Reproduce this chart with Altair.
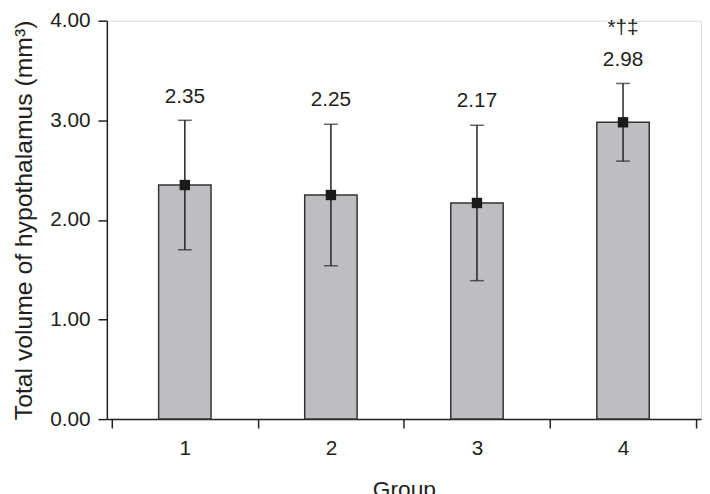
import altair as alt
import pandas as pd

groups = [1, 2, 3, 4]
means = [2.35, 2.25, 2.17, 2.98]
sds = [0.65, 0.71, 0.78, 0.39]
marks = ["", "", "", "*†‡"]
y_ticks = [0, 1, 2, 3, 4]
x_ticks = [0.5, 1, 1.5, 2, 2.5, 3, 3.5, 4, 4.5]

df = pd.DataFrame({"group": groups, "mean": means, "sd": sds, "mark": marks})
df["lo"] = df["mean"] - df["sd"]
df["hi"] = df["mean"] + df["sd"]
df["label"] = df["mean"].map(lambda v: f"{v:.2f}")

FONT = "Liberation Sans"
INK = "#231f20"

xscale = alt.Scale(domain=[0.5, 4.5], nice=False, zero=False)
x = alt.X("group:Q", title="Group", scale=xscale,
          axis=alt.Axis(values=x_ticks, grid=False,
                        labelExpr="datum.value % 1 == 0 ? format(datum.value, 'd') : ''",
                        tickOpacity={"condition": {"test": "datum.value % 1 == 0", "value": 0}, "value": 1},
                        labelOverlap=False, labelFlush=False,
                        tickSize=9, labelPadding=10,
                        titlePadding=20, domainColor=INK, tickColor=INK,
                        labelColor=INK, titleColor=INK, labelFontSize=21,
                        titleFontSize=23, labelFont=FONT, titleFont=FONT,
                        titleFontWeight="normal", domainWidth=1.5, tickWidth=1.5))
xs = alt.X("group:Q", scale=xscale)
yscale = alt.Scale(domain=[0, 4], nice=False)
y = alt.Y("mean:Q", title="Total volume of hypothalamus (mm³)", scale=yscale,
          axis=alt.Axis(values=y_ticks, format=".2f", grid=False, tickSize=9,
                        labelPadding=8, titlePadding=13, domainColor=INK, tickColor=INK,
                        labelColor=INK, titleColor=INK, labelFontSize=21,
                        titleFontSize=25, labelFont=FONT, titleFont=FONT,
                        titleFontWeight="normal", domainWidth=1.5, tickWidth=1.5))

base = alt.Chart(df)

bars = base.mark_bar(fill="#bdbec2", stroke="#333333", strokeWidth=1.5, width=53).encode(x=x, y=y)
rule = base.mark_rule(color="#222222", strokeWidth=1.5).encode(
    x=xs, y=alt.Y("lo:Q", scale=yscale), y2="hi:Q")
cap_hi = base.mark_tick(color="#222222", orient="horizontal", size=14, thickness=1.5).encode(
    x=xs, y=alt.Y("hi:Q", scale=yscale))
cap_lo = base.mark_tick(color="#222222", orient="horizontal", size=14, thickness=1.5).encode(
    x=xs, y=alt.Y("lo:Q", scale=yscale))
sq = base.mark_square(color="#1a1a1a", size=110, opacity=1, filled=True).encode(
    x=xs, y=alt.Y("mean:Q", scale=yscale))
lab = base.mark_text(font=FONT, fontSize=21, color=INK, baseline="middle", dy=-24).encode(
    x=xs, y=alt.Y("hi:Q", scale=yscale), text="label:N")
sig = base.mark_text(font=FONT, fontSize=21, color=INK, baseline="middle", dy=-56).encode(
    x=xs, y=alt.Y("hi:Q", scale=yscale), text="mark:N")

chart = alt.layer(bars, rule, cap_hi, cap_lo, sq, lab, sig).properties(
    width=601, height=403,
    autosize=alt.AutoSizeParams(type="none"),
    padding={"left": 100, "top": 10, "right": 1, "bottom": 80},
).configure_view(stroke=None).configure(background="white")

chart.save("out.html", embed_options={"renderer": "svg", "actions": False})
